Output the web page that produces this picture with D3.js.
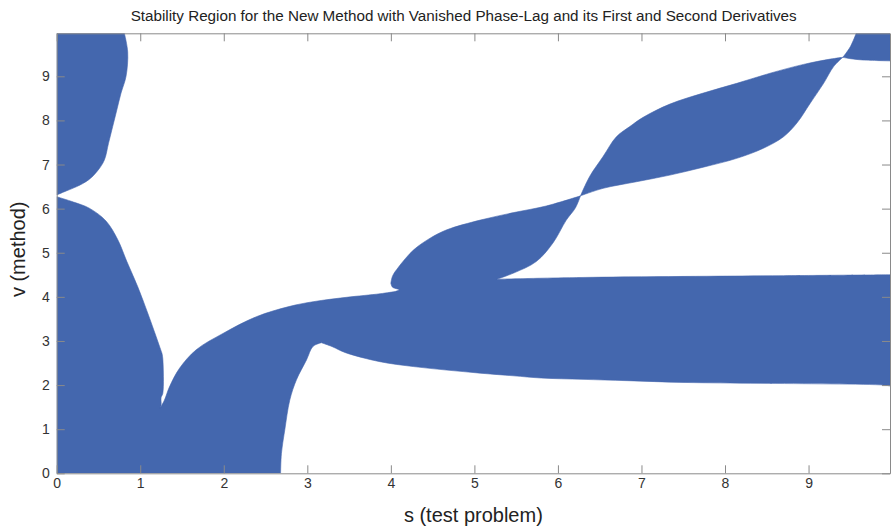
<!DOCTYPE html>
<html>
<head>
<meta charset="utf-8">
<script src="https://cdn.jsdelivr.net/npm/d3@7"></script>
<style>
  body { margin: 0; background: #fff; }
  svg { display: block; font-family: "Liberation Sans", Arial, sans-serif; }
  .axis path, .axis line { stroke: #8a8a8a; }
  .axis text { fill: #333; font-size: 14px; }
</style>
</head>
<body>
<svg id="chart" width="891" height="529"></svg>
<script>
// Axis ranges and ticks
const sMax = 9.975;
const vMax = 9.975;
const xTicks = [0, 1, 2, 3, 4, 5, 6, 7, 8, 9];
const yTicks = [0, 1, 2, 3, 4, 5, 6, 7, 8, 9];

// Stability region boundaries as [s, v] pairs.
// Each region is a list of boundary pieces; pieces meet at corners.
const regionTopLeft = [
  [[0, 9.975], [0.81, 9.975]],
  [[0.81, 9.975], [0.85, 9.55], [0.83, 9.0], [0.77, 8.62], [0.72, 8.24],
   [0.67, 7.86], [0.62, 7.48], [0.57, 7.10], [0.49, 6.86], [0.38, 6.65], [0.24, 6.50],
   [0.10, 6.39], [0, 6.31]],
  [[0, 6.31], [0, 9.975]]
];

const regionMain = [
  [[0, 6.27], [0.2, 6.15], [0.39, 6.01], [0.59, 5.72], [0.73, 5.30], [0.84, 4.80],
   [0.97, 4.23], [1.09, 3.63], [1.19, 3.10], [1.26, 2.72]],
  [[1.26, 2.72], [1.27, 2.6], [1.27, 1.81], [1.25, 1.72], [1.25, 1.55], [1.24, 1.48]],
  [[1.24, 1.48], [1.29, 1.66], [1.35, 1.96], [1.47, 2.38], [1.67, 2.80], [1.99, 3.17],
   [2.39, 3.55], [2.78, 3.78], [3.07, 3.89], [3.47, 3.99], [3.87, 4.07], [4.05, 4.12]],
  [[4.05, 4.12], [4.10, 4.16], [4.02, 4.22], [4.0, 4.31]],
  [[4.0, 4.31], [4.02, 4.47], [4.09, 4.67], [4.27, 5.06], [4.47, 5.33], [4.67, 5.52],
   [5.07, 5.74], [5.47, 5.91], [5.86, 6.06], [6.27, 6.29]],
  [[6.27, 6.29], [6.21, 6.02], [6.10, 5.74], [5.94, 5.22], [5.74, 4.80], [5.47, 4.54],
   [5.27, 4.40]],
  [[5.27, 4.40], [6.3, 4.44], [8.7, 4.48], [9.975, 4.50]],
  [[9.975, 4.50], [9.975, 1.98]],
  [[9.975, 1.98], [9.9, 2.0], [8.43, 2.04], [7.51, 2.06], [6.83, 2.10], [6.3, 2.13],
   [5.8, 2.16], [5.47, 2.21], [5.07, 2.27], [4.67, 2.34], [4.27, 2.42], [3.87, 2.53],
   [3.45, 2.74], [3.3, 2.87], [3.17, 2.96]],
  [[3.17, 2.96], [3.07, 2.88], [2.99, 2.57], [2.87, 2.12], [2.79, 1.66], [2.73, 0.98],
   [2.69, 0.45], [2.68, 0]],
  [[2.68, 0], [0, 0]],
  [[0, 0], [0, 6.27]]
];

const regionMiddleLens = [
  [[6.27, 6.29], [6.38, 6.73], [6.54, 7.18], [6.70, 7.63], [6.86, 7.86], [7.02, 8.07],
   [7.34, 8.37], [7.74, 8.62], [8.14, 8.84], [8.54, 9.07], [8.94, 9.27], [9.26, 9.39],
   [9.41, 9.43]],
  [[9.41, 9.43], [9.30, 9.22], [9.18, 8.84], [9.02, 8.39], [8.86, 7.94], [8.70, 7.63],
   [8.46, 7.37], [8.14, 7.14], [7.74, 6.94], [7.34, 6.76], [6.94, 6.61], [6.54, 6.46],
   [6.27, 6.29]]
];

const regionTopRight = [
  [[9.41, 9.43], [9.50, 9.67], [9.57, 9.975]],
  [[9.57, 9.975], [9.975, 9.975]],
  [[9.975, 9.975], [9.975, 9.35]],
  [[9.975, 9.35], [9.65, 9.37], [9.5, 9.40], [9.41, 9.43]]
];

const title = "Stability Region for the New Method with Vanished Phase-Lag and its First and Second Derivatives";
const xLabel = "s (test problem)";
const yLabel = "v (method)";

const margin = { top: 33.3, right: 1, bottom: 55.7, left: 56.7 };
const width = 891;
const height = 529;

const svg = d3.select("#chart");

const x = d3.scaleLinear().domain([0, sMax]).range([margin.left, width - margin.right]);
const y = d3.scaleLinear().domain([0, vMax]).range([height - margin.bottom, margin.top]);

svg.append("defs").append("clipPath")
  .attr("id", "plot-clip")
  .append("rect")
  .attr("x", margin.left)
  .attr("y", margin.top)
  .attr("width", x(sMax) - margin.left)
  .attr("height", y(0) - margin.top);

const piece = d3.line()
  .x(d => x(d[0]))
  .y(d => y(d[1]))
  .curve(d3.curveCatmullRom.alpha(0.5));

// join the smooth pieces of one outline into a single closed path
function outline(pieces) {
  return pieces.map((p, i) => i === 0 ? piece(p) : piece(p).replace(/^M/, "L")).join("") + "Z";
}

// Filled stability regions
svg.append("g")
  .attr("clip-path", "url(#plot-clip)")
  .selectAll("path")
  .data([regionTopLeft, regionMain, regionMiddleLens, regionTopRight])
  .join("path")
  .attr("d", outline)
  .attr("fill", "#4467ae")
  .attr("stroke", "#4467ae")
  .attr("stroke-width", 0.6);

// Axes, ticks pointing inwards
svg.append("g")
  .attr("class", "axis")
  .attr("transform", `translate(0,${y(0)})`)
  .call(d3.axisBottom(x).tickValues(xTicks).tickSizeInner(-8).tickSizeOuter(0).tickPadding(5));

svg.append("g")
  .attr("class", "axis")
  .attr("transform", `translate(${x(0)},0)`)
  .call(d3.axisLeft(y).tickValues(yTicks).tickSizeInner(-8).tickSizeOuter(0).tickPadding(7));

svg.append("g")
  .attr("class", "axis")
  .attr("transform", `translate(0,${y(vMax)})`)
  .call(d3.axisTop(x).tickValues(xTicks).tickSizeInner(-8).tickSizeOuter(0).tickFormat(""));

svg.append("g")
  .attr("class", "axis")
  .attr("transform", `translate(${x(sMax)},0)`)
  .call(d3.axisRight(y).tickValues(yTicks).tickSizeInner(-8).tickSizeOuter(0).tickFormat(""));

// Title and axis labels
svg.append("text")
  .attr("x", 130.7)
  .attr("y", 20.5)
  .attr("textLength", 666)
  .attr("lengthAdjust", "spacingAndGlyphs")
  .attr("fill", "#222")
  .style("font-size", "14px")
  .text(title);

svg.append("text")
  .attr("x", (x(0) + x(sMax)) / 2)
  .attr("y", 521.7)
  .attr("text-anchor", "middle")
  .attr("fill", "#222")
  .style("font-size", "20px")
  .text(xLabel);

svg.append("text")
  .attr("transform", `translate(24.5,${(y(0) + y(vMax)) / 2 - 4}) rotate(-90)`)
  .attr("text-anchor", "middle")
  .attr("fill", "#222")
  .style("font-size", "20px")
  .text(yLabel);
</script>
</body>
</html>
